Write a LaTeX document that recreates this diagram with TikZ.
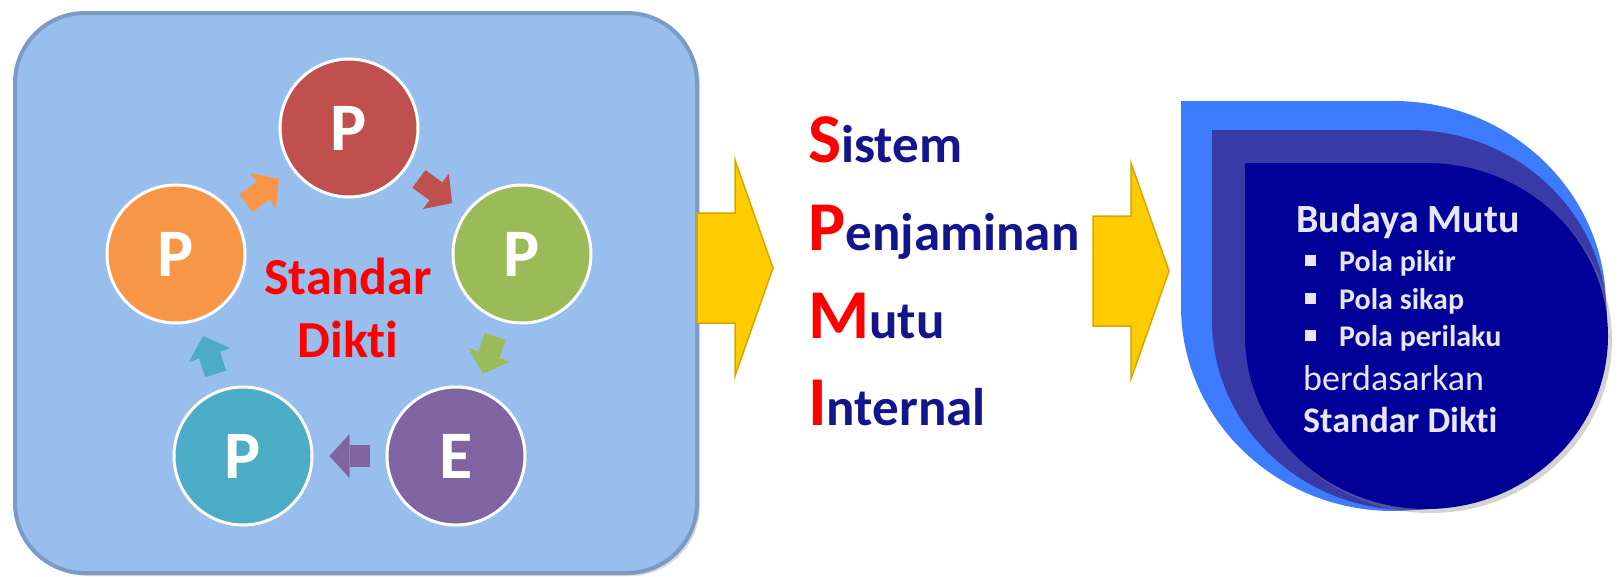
\documentclass[tikz,border=0pt]{standalone}
\usepackage{fontspec}
\setmainfont{Carlito}[Ligatures=NoCommon]
\usetikzlibrary{arrows.meta,shadows}

\definecolor{boxfill}{HTML}{98BEEE}
\definecolor{boxedge}{HTML}{7C9AC6}
\definecolor{pred}{HTML}{C0504D}
\definecolor{pgreen}{HTML}{9BBB59}
\definecolor{ppurple}{HTML}{8064A2}
\definecolor{pteal}{HTML}{4BACC6}
\definecolor{porange}{HTML}{F79646}
\definecolor{gold}{HTML}{FFCC00}
\definecolor{goldedge}{HTML}{D9A400}
\definecolor{spmiblue}{HTML}{14148C}
\definecolor{dropouter}{HTML}{3D7BFF}
\definecolor{dropmid}{HTML}{3A3AA6}
\definecolor{dropfront}{HTML}{000099}
\definecolor{droptext}{HTML}{E6E6F7}

% teardrop with square top-left corner: style, corner x, corner y, width, height
\newcommand{\dropshape}[5]{%
  \path[#1] (#2,#3) -- ++(#4/2,0)
    arc[start angle=90, end angle=-180, x radius=#4*0.5pt, y radius=#5*0.5pt] -- cycle;}
\newcommand{\capred}[1]{{\color{red}\fontsize{70}{70}\selectfont #1}}
\newcommand{\sqbullet}{\makebox[34pt][l]{\rule[5pt]{11pt}{11pt}}}

\begin{document}
\begin{tikzpicture}
  [x=1pt,y=-1pt,
    phase/.style={circle,draw=white,line width=3pt,minimum size=138pt,inner sep=0pt,
      text=white,font=\fontsize{68}{68}\selectfont\bfseries},
    cyclearrow/.style={line width=22pt,shorten <=16pt,shorten >=16pt,
      -{Triangle[width=44pt,length=20pt,line width=0pt]}},
    spmi/.style={anchor=base west,inner sep=0pt,text=spmiblue,
      font=\fontsize{53}{53}\selectfont\bfseries},
    droplabel/.style={anchor=base west,inner sep=0pt,text=droptext},
    bigarrow/.pic={\path[fill=gold,draw=goldedge,line width=1.5pt]
      (0,-55) -- (38,-55) -- (38,-108) -- (76,0) -- (38,108) -- (38,55) -- (0,55) -- cycle;},
  ]
  \useasboundingbox (0,0) rectangle (1618,576);

  % left panel
  \node[rectangle,rounded corners=70pt,fill=boxfill,draw=boxedge,line width=4pt,
    minimum width=682pt,minimum height=560pt,
    drop shadow={shadow xshift=3pt,shadow yshift=-3pt,opacity=.3}] (panel) at (356,293) {};

  \node[phase,fill=pred] (penetapan) at (349,128) {P};
  \node[phase,fill=pgreen] (pelaksanaan) at (522,254) {P};
  \node[phase,fill=ppurple] (evaluasi) at (456,456) {E};
  \node[phase,fill=pteal] (pengendalian) at (243,456) {P};
  \node[phase,fill=porange] (peningkatan) at (176,254) {P};

  \draw[cyclearrow,pred] (penetapan) -- (pelaksanaan);
  \draw[cyclearrow,pgreen] (pelaksanaan) -- (evaluasi);
  \draw[cyclearrow,ppurple] (evaluasi) -- (pengendalian);
  \draw[cyclearrow,pteal] (pengendalian) -- (peningkatan);
  \draw[cyclearrow,porange] (peningkatan) -- (penetapan);

  \node[anchor=base,inner sep=0pt,text=red,font=\fontsize{52}{52}\selectfont\bfseries]
    (standar) at (348,294) {Standar};
  \node[anchor=base,inner sep=0pt,text=red,font=\fontsize{52}{52}\selectfont\bfseries]
    (dikti) at (348,357) {Dikti};

  % yellow arrows
  \coordinate (in1) at (697,268);
  \coordinate (in2) at (1093,271);
  \pic at (in1) {bigarrow};
  \pic at (in2) {bigarrow};

  % SPMI
  \node[spmi] (sistem) at (808,162) {\capred{S}istem};
  \node[spmi] (penjaminan) at (808,250) {\capred{P}enjaminan};
  \node[spmi] (mutu) at (808,338) {\capred{M}utu};
  \node[spmi] (internal) at (808,425) {\capred{I}nternal};

  % budaya mutu drop
  \dropshape{fill=dropouter}{1181}{101}{425}{410}
  \dropshape{fill=dropmid}{1212}{130}{395}{380}
  \dropshape{fill=dropfront,drop shadow={shadow xshift=4pt,shadow yshift=-4pt,opacity=.35}}{1245}{163}{363}{346}

  \node[droplabel,font=\fontsize{40}{40}\selectfont\bfseries] (budaya) at (1296,232) {Budaya Mutu};
  \node[droplabel,font=\fontsize{30}{30}\selectfont\bfseries] (pikir) at (1305,271) {\sqbullet Pola pikir};
  \node[droplabel,font=\fontsize{30}{30}\selectfont\bfseries] (sikap) at (1305,309) {\sqbullet Pola sikap};
  \node[droplabel,font=\fontsize{30}{30}\selectfont\bfseries] (perilaku) at (1305,346) {\sqbullet Pola perilaku};
  \node[droplabel,font=\fontsize{36}{36}\selectfont] (berdasarkan) at (1303,390) {berdasarkan};
  \node[droplabel,font=\fontsize{36}{36}\selectfont\bfseries] (stddikti) at (1303,432) {Standar Dikti};
\end{tikzpicture}
\end{document}
